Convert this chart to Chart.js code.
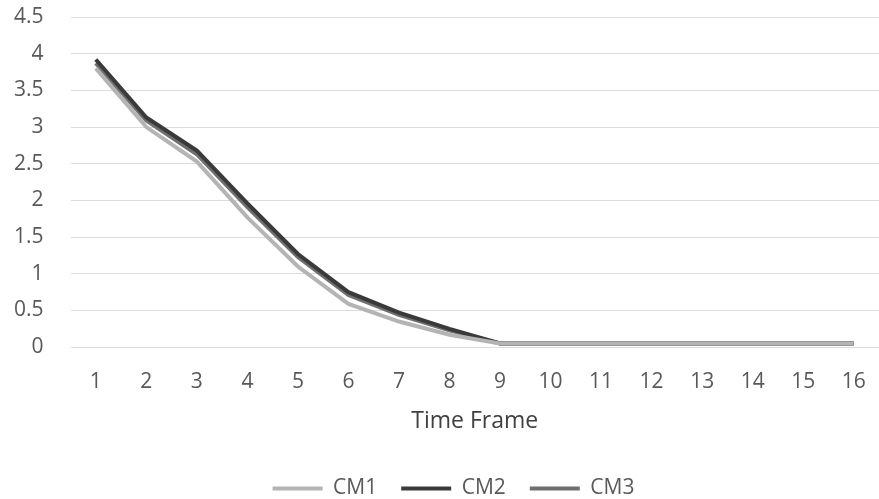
<!DOCTYPE html>
<html>
<head>
<meta charset="utf-8">
<script src="https://cdn.jsdelivr.net/npm/chart.js@4/dist/chart.umd.min.js"></script>
<style>
  html, body { margin: 0; padding: 0; background: #fff; }
  #wrap { width: 879px; height: 499px; }
</style>
</head>
<body>
<div id="wrap"><canvas id="c" width="879" height="499"></canvas></div>
<script>
const timeFrames = ['1','2','3','4','5','6','7','8','9','10','11','12','13','14','15','16'];
const cm1 = [3.8, 3.0, 2.53, 1.77, 1.1, 0.59, 0.35, 0.17, 0.05, 0.05, 0.05, 0.05, 0.05, 0.05, 0.05, 0.05];
const cm2 = [3.92, 3.13, 2.68, 1.96, 1.27, 0.75, 0.47, 0.25, 0.05, 0.05, 0.05, 0.05, 0.05, 0.05, 0.05, 0.05];
const cm3 = [3.87, 3.09, 2.63, 1.91, 1.23, 0.71, 0.44, 0.23, 0.05, 0.05, 0.05, 0.05, 0.05, 0.05, 0.05, 0.05];
const yTicks = [0, 0.5, 1, 1.5, 2, 2.5, 3, 3.5, 4, 4.5];

const FONT = '"Open Sans", Lato, sans-serif';
const SIZE = 21;
const series = [
  { label: 'CM1', data: cm1, color: '#b4b4b4' },
  { label: 'CM2', data: cm2, color: '#3a3a3a' },
  { label: 'CM3', data: cm3, color: '#6f6f6f' }
];

// shift the legend row a little right of centre
const legendNudge = {
  id: 'legendNudge',
  afterLayout(chart) {
    const lg = chart.legend;
    if (lg) { lg.left += 7; lg.right += 7; }
  }
};

new Chart(document.getElementById('c'), {
  type: 'line',
  data: {
    labels: timeFrames,
    datasets: series.map(s => ({
      label: s.label,
      data: s.data,
      borderColor: s.color,
      backgroundColor: s.color,
      borderWidth: 4,
      pointRadius: 0,
      tension: 0,
      fill: false
    }))
  },
  plugins: [legendNudge],
  options: {
    responsive: false,
    animation: false,
    layout: { padding: { left: 14, right: 0, top: 17, bottom: -10 } },
    plugins: {
      tooltip: { enabled: false },
      legend: {
        position: 'bottom',
        labels: {
          boxWidth: 50,
          boxHeight: 4,
          padding: 24,
          color: '#595959',
          font: { family: FONT, size: SIZE },
          generateLabels(chart) {
            return chart.data.datasets.map((d, i) => ({
              text: d.label,
              fillStyle: d.borderColor,
              strokeStyle: d.borderColor,
              lineWidth: 0,
              fontColor: '#595959',
              datasetIndex: i
            }));
          }
        }
      }
    },
    scales: {
      x: {
        offset: true,
        // invisible tick marks keep the labels clear of the plot
        grid: { display: true, drawOnChartArea: false, drawTicks: true, tickLength: 22, tickColor: 'rgba(0,0,0,0)', color: 'rgba(0,0,0,0)' },
        border: { display: false },
        ticks: { color: '#595959', font: { family: FONT, size: SIZE }, padding: 0, maxRotation: 0, autoSkip: false },
        title: {
          display: true,
          text: 'Time Frame',
          color: '#404040',
          font: { family: FONT, size: 23 },
          padding: { top: 13, bottom: 19 }
        }
      },
      y: {
        min: 0,
        max: 4.5,
        afterBuildTicks(axis) { axis.ticks = yTicks.map(v => ({ value: v })); },
        grid: { color: '#dcdcdc', lineWidth: 1, drawTicks: true, tickLength: 27, tickColor: 'rgba(0,0,0,0)' },
        border: { display: false },
        ticks: {
          color: '#595959',
          font: { family: FONT, size: SIZE },
          padding: 0,
          callback: v => String(v)
        }
      }
    }
  }
});
</script>
</body>
</html>
